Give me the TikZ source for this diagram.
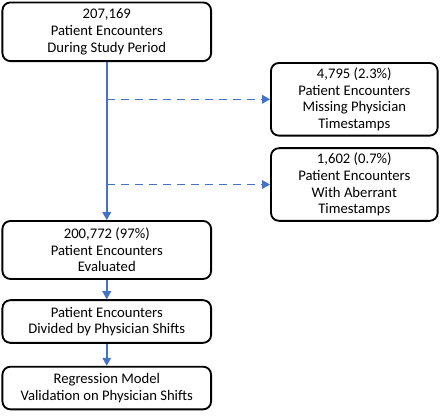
\documentclass[tikz,border=0pt]{standalone}
\usepackage{fontspec}
\setmainfont{Carlito}
\usetikzlibrary{arrows.meta, positioning, calc}
\definecolor{flowBlue}{RGB}{68,114,196}

\begin{document}
\begin{tikzpicture}[
    x=0.75pt, y=-0.75pt,
    node distance=16pt and 43.5pt,
    stage/.style={rectangle, draw, line width=1.4pt, rounded corners=6pt, minimum width=156.5pt, inner sep=2pt, align=center, font=\fontsize{11}{12.5}\selectfont},
    excluded/.style={stage, minimum width=125pt, minimum height=54.5pt},
    arrow/.style={-{Triangle[length=6pt, width=6.5pt]}, line width=1.1pt, flowBlue},
    dasharrow/.style={arrow, dash pattern=on 6pt off 4.5pt}
]
\useasboundingbox (0,0) rectangle (440,415);

\node[stage, minimum height=44pt, anchor=north west] (total) at (1.5,1.5) {207,169\\Patient Encounters\\During Study Period};
\node[excluded, below right=0pt and 43.5pt of total] (missing) {4,795 (2.3\%)\\Patient Encounters\\Missing Physician\\Timestamps};
\node[excluded, below=8pt of missing] (aberrant) {1,602 (0.7\%)\\Patient Encounters\\With Aberrant\\Timestamps};
\node[stage, minimum height=43.5pt, below=118.5pt of total] (evaluated) {200,772 (97\%)\\Patient Encounters\\Evaluated};
\node[stage, minimum height=32pt, below=14.5pt of evaluated] (shifts) {Patient Encounters\\Divided by Physician Shifts};
\node[stage, minimum height=32pt, below=16.5pt of shifts] (regression) {Regression Model\\Validation on Physician Shifts};

\coordinate (split1) at (total.south |- missing.west);
\coordinate (split2) at (total.south |- aberrant.west);

\draw[arrow] (total) -- (evaluated);
\draw[dasharrow] (split1) -- (missing);
\draw[dasharrow] (split2) -- (aberrant);
\draw[arrow] (evaluated) -- (shifts);
\draw[arrow] (shifts) -- (regression);

\end{tikzpicture}
\end{document}
